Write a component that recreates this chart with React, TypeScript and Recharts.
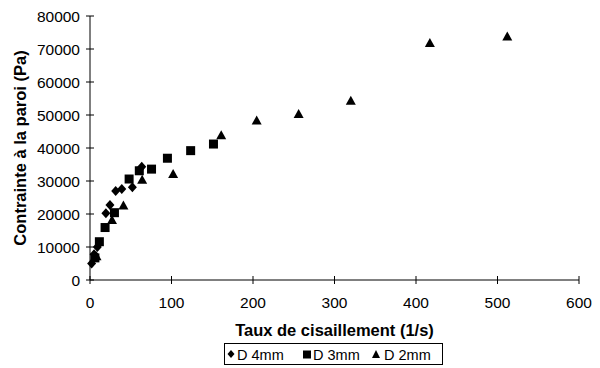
import { ScatterChart, Scatter, XAxis, YAxis, Label } from 'recharts'

const FONT = 'Arial, "Liberation Sans", sans-serif'

// D 4mm
const d4X = [2, 5, 9, 19.5, 24.5, 31.5, 39, 52, 63.5]
const d4Y = [5000, 7800, 10000, 20200, 22700, 27000, 27600, 28100, 34300]
// D 3mm
const d3X = [6, 11.5, 18.5, 30, 48, 60.5, 75.5, 95, 123.5, 151.5]
const d3Y = [6700, 11600, 15900, 20400, 30600, 33100, 33600, 36900, 39200, 41200]
// D 2mm
const d2X = [8, 27, 41, 64, 102, 161, 204.5, 256, 320, 417, 512]
const d2Y = [7200, 18200, 22600, 30400, 32100, 43900, 48300, 50300, 54300, 71800, 73800]

const xTicks = [0, 100, 200, 300, 400, 500, 600]
const yTicks = [0, 10000, 20000, 30000, 40000, 50000, 60000, 70000, 80000]

const toRows = (xs: number[], ys: number[]) => xs.map((x, i) => ({ x, y: ys[i] }))

const Diamond = ({ cx, cy }: any) => (
  <polygon points={`${cx},${cy - 5} ${cx + 4.5},${cy} ${cx},${cy + 5} ${cx - 4.5},${cy}`} fill="#000" />
)
const Square = ({ cx, cy }: any) => (
  <rect x={cx - 4.5} y={cy - 4.5} width={9} height={9} fill="#000" />
)
const Triangle = ({ cx, cy }: any) => (
  <polygon points={`${cx},${cy - 5} ${cx + 5},${cy + 4} ${cx - 5},${cy + 4}`} fill="#000" />
)

const XTick = ({ x, payload }: any) => (
  <g>
    <line x1={x} x2={x} y1={280 - 4} y2={280 + 4} stroke="#000" />
    <text x={x} y={307.5} textAnchor="middle" fontSize={15.5} fontFamily={FONT} fill="#000">{payload.value}</text>
  </g>
)
const YTick = ({ y, payload }: any) => (
  <g>
    <line x1={86} x2={94} y1={y} y2={y} stroke="#000" />
    <text x={80} y={y + 5.5} textAnchor="end" fontSize={15.5} fontFamily={FONT} fill="#000">{payload.value}</text>
  </g>
)

const LegendBox = () => (
  <svg width={219} height={22} style={{ display: 'block' }}>
    <rect x={0.5} y={0.5} width={218} height={21} fill="#fff" stroke="#000" />
    <polygon points="7,7 10.5,11 7,15 3.5,11" fill="#000" />
    <text x={13} y={16.5} fontSize={14.5} fontFamily={FONT}>D 4mm</text>
    <rect x={79} y={7.5} width={8} height={8} fill="#000" />
    <text x={89} y={16.5} fontSize={14.5} fontFamily={FONT}>D 3mm</text>
    <polygon points="152,7 156,15 148,15" fill="#000" />
    <text x={160} y={16.5} fontSize={14.5} fontFamily={FONT}>D 2mm</text>
  </svg>
)

export default function App() {
  return (
    <div style={{ position: 'absolute', left: 0, top: 0, width: 600, height: 368, background: '#fff' }}>
      <ScatterChart width={600} height={368} margin={{ top: 16, right: 21, left: 0, bottom: 57 }}>
        <XAxis
          type="number" dataKey="x" domain={[0, 600]} ticks={xTicks}
          axisLine={{ stroke: '#000' }} tickLine={false} tick={<XTick />} height={31}
          interval={0}
        >
          <Label value="Taux de cisaillement (1/s)" position="insideBottom" offset={-25}
            style={{ fontWeight: 'bold', fontSize: 16.5, fontFamily: FONT, fill: '#000' }} />
        </XAxis>
        <YAxis
          type="number" dataKey="y" domain={[0, 80000]} ticks={yTicks} width={90}
          axisLine={{ stroke: '#000' }} tickLine={false} tick={<YTick />} interval={0}
        >
          <Label value="Contrainte à la paroi (Pa)" angle={-90} position="insideLeft" offset={20}
            style={{ fontWeight: 'bold', fontSize: 16.5, fontFamily: FONT, fill: '#000', textAnchor: 'middle' }} />
        </YAxis>
        <Scatter name="D 4mm" data={toRows(d4X, d4Y)} shape={<Diamond />} isAnimationActive={false} />
        <Scatter name="D 3mm" data={toRows(d3X, d3Y)} shape={<Square />} isAnimationActive={false} />
        <Scatter name="D 2mm" data={toRows(d2X, d2Y)} shape={<Triangle />} isAnimationActive={false} />
      </ScatterChart>
      <div style={{ position: 'absolute', left: 224, top: 343 }}>
        <LegendBox />
      </div>
    </div>
  )
}
